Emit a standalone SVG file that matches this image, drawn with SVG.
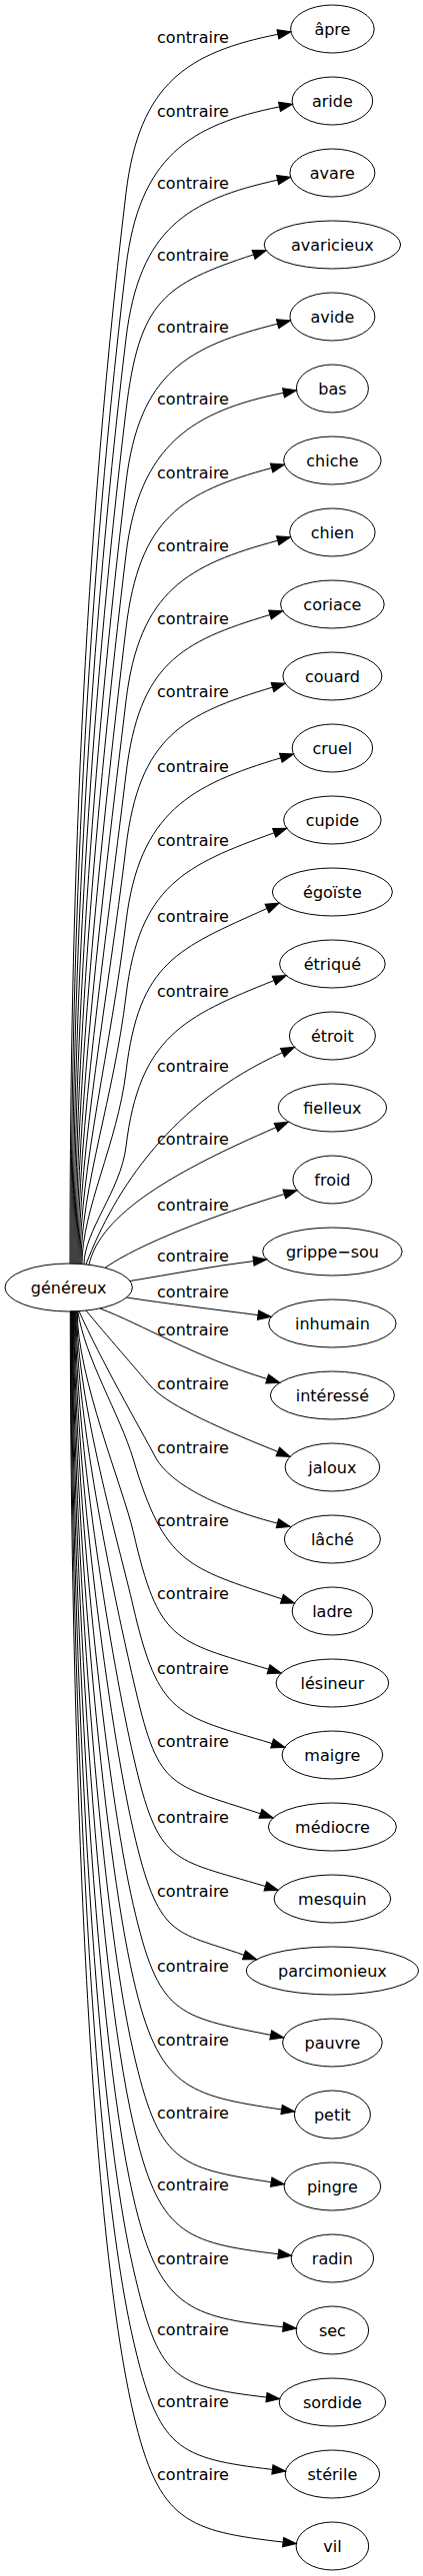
<svg xmlns="http://www.w3.org/2000/svg" width="423" height="2579" viewBox="0 0 423 2579">
<style>
.n ellipse{fill:none;stroke:#000;stroke-width:1}
text{font-family:"DejaVu Sans",sans-serif;font-size:16px;text-anchor:middle;fill:#000}
.e path{fill:none;stroke:#000;stroke-width:1;marker-end:url(#ah)}
</style>
<defs>
<marker id="ah" viewBox="0 0 13.3 9.4" refX="0" refY="4.7" markerWidth="13.3" markerHeight="9.4" markerUnits="userSpaceOnUse" orient="auto" overflow="visible">
<path d="M0,0 L13.3,4.7 L0,9.4 Z" fill="#000" stroke="#000" stroke-width="1"/>
</marker>
</defs>
<rect width="423" height="2579" fill="#fff"/>
<g id="connectors" class="e">
<path d="M70,1265.2 C70,965.1 78.4,589.9 126,193.3 C139.2,83.3 187.9,52.3 277.9,34.3"/><text x="193" y="43.3">contraire</text>
<path d="M71,1265.2 C71,985.8 81.7,636.5 126,267.3 C139.2,157.3 189.5,124.9 279.5,106.9"/><text x="193" y="117.3">contraire</text>
<path d="M72,1265.2 C72,1005.9 84.9,681.7 126,339 C139.2,229 187.6,200 277.6,180.2"/><text x="193" y="189">contraire</text>
<path d="M73,1265.2 C73,1026 88.1,727.1 126,411 C139.2,301 163.6,284.6 253.6,254.9"/><text x="193" y="261">contraire</text>
<path d="M74,1265.2 C74,1046.2 91.3,772.4 126,483 C139.2,373 187.6,346.7 277.6,324.2"/><text x="193" y="333">contraire</text>
<path d="M75,1265.2 C75,1066.3 94.5,817.8 126,555 C139.2,445 193.5,411.3 283.5,393.3"/><text x="193" y="405">contraire</text>
<path d="M76,1265.2 C76,1087.1 97.8,864.4 126,629 C139.2,519 181.6,492.8 271.6,468.5"/><text x="193" y="479">contraire</text>
<path d="M77,1265.2 C77,1107.4 101,910.2 126,701.7 C139.2,591.7 187.7,565.5 277.7,541.2"/><text x="193" y="551.7">contraire</text>
<path d="M78,1265.2 C78,1127.9 104.2,956.4 126,775 C139.2,665 180,642.5 270,615.5"/><text x="193" y="625">contraire</text>
<path d="M79,1265.2 C79,1148.4 107.5,1002.4 126,848 C139.2,738 182.5,715.1 272.5,688.1"/><text x="193" y="698">contraire</text>
<path d="M80,1265.2 C80,1169.4 110.8,1049.6 126,923 C139.2,813 190.8,785.8 280.8,758.8"/><text x="193" y="773">contraire</text>
<path d="M81,1265.2 C81,1190.1 114.1,1096.2 126,997 C139.2,887 184.2,866.2 274.2,833.8"/><text x="193" y="847">contraire</text>
<path d="M82,1265.2 C82,1211.4 117.5,1144.1 126,1073 C139.2,963 177,950 267,909.5"/><text x="193" y="923">contraire</text>
<path d="M84,1265.7 C84,1232.7 120.8,1191.5 126,1148 C139.2,1038 184,1017.6 274,981.6"/><text x="193" y="998">contraire</text>
<path d="M86,1265.8 C115,1190 172.4,1103.3 282.4,1053.8"/><text x="193" y="1073">contraire</text>
<path d="M89,1266.3 C100,1215 176,1172 276,1128.7"/><text x="193" y="1146">contraire</text>
<path d="M105,1269.3 C140,1245 214.3,1216.5 284.3,1195.5"/><text x="193" y="1211.7">contraire</text>
<path d="M130,1282.5 C170,1276 213.5,1267.4 253.5,1262.6"/><text x="193" y="1263">contraire</text>
<path d="M126.7,1299 C165,1305 218,1311.4 258,1316.6"/><text x="193" y="1299">contraire</text>
<path d="M100,1310 C140,1325 197.1,1359.5 267.1,1380.5"/><text x="193" y="1337">contraire</text>
<path d="M86,1312 C105,1335 138,1373 150,1387 C165,1404.5 207.8,1425.4 277.8,1453.4"/><text x="193" y="1390.7">contraire</text>
<path d="M79,1312.6 C100,1360 140,1430 155,1458 C165,1478 200,1505 277.4,1525.1"/><text x="193" y="1455">contraire</text>
<path d="M77.8,1312.7 C85,1360 119.8,1416 133.3,1461 C164.8,1566 186.9,1569.5 281.9,1600.8"/><text x="193" y="1528">contraire</text>
<path d="M77.2,1312.7 C77.2,1379 123.1,1489.5 133.3,1533.7 C158.6,1643.7 173.5,1642.7 268.5,1671.2"/><text x="193" y="1600.7">contraire</text>
<path d="M76.7,1312.7 C76.7,1401.5 119.7,1549.5 133.3,1608.7 C158.6,1718.7 177.1,1717 272.1,1745.5"/><text x="193" y="1675.7">contraire</text>
<path d="M76,1312.7 C76,1423.5 116.3,1608.1 133.3,1682 C158.6,1792 165.5,1784.5 260.5,1815.8"/><text x="193" y="1749">contraire</text>
<path d="M75.3,1312.7 C75.3,1446.3 112.8,1668.9 133.3,1758 C158.6,1868 170.4,1860 265.4,1888.5"/><text x="193" y="1825">contraire</text>
<path d="M74.6,1312.7 C74.6,1468.6 109.4,1728.4 133.3,1832.3 C158.6,1942.3 174,1932.8 244,1957.3"/><text x="193" y="1899.3">contraire</text>
<path d="M74,1312.7 C74,1491.1 105.9,1788.4 133.3,1907.3 C158.6,2017.3 175.7,2018.4 270.7,2037.4"/><text x="193" y="1974.3">contraire</text>
<path d="M73.4,1312.7 C73.4,1513.1 102.6,1847.1 133.3,1980.7 C158.6,2090.7 186.6,2097.8 281.6,2112"/><text x="193" y="2047.7">contraire</text>
<path d="M72.8,1312.7 C72.8,1535.1 99.2,1905.7 133.3,2054 C158.6,2164 176.2,2170.5 271.2,2184.7"/><text x="193" y="2121">contraire</text>
<path d="M72.3,1312.7 C72.3,1556.8 95.9,1963.6 133.3,2126.3 C158.6,2236.3 183.3,2245.3 278.3,2256.7"/><text x="193" y="2193.3">contraire</text>
<path d="M71.8,1312.7 C71.8,1578.8 92.5,2022.3 133.3,2199.7 C158.6,2309.7 188.1,2320.2 283.1,2329.7"/><text x="193" y="2266.7">contraire</text>
<path d="M71.3,1312.7 C71.3,1600.3 89.2,2079.6 133.3,2271.3 C158.6,2381.3 171.5,2388.7 266.5,2400.1"/><text x="193" y="2338.3">contraire</text>
<path d="M70.8,1312.7 C70.8,1621.8 85.9,2136.9 133.3,2343 C158.6,2453 177.4,2461 272.4,2472.4"/><text x="193" y="2410">contraire</text>
<path d="M70.3,1312.7 C70.3,1643.7 82.5,2195.3 133.3,2416 C158.6,2526 188.1,2533.7 283.1,2545.1"/><text x="193" y="2483">contraire</text>
</g>
<g id="genereux" class="n"><ellipse cx="68.7" cy="1289" rx="63.7" ry="24"/><text x="68.7" y="1294.6">généreux</text></g>
<g id="n_apre" class="n"><ellipse cx="332.4" cy="29" rx="41.8" ry="24"/><text x="332.4" y="34.6">âpre</text></g>
<g id="n_aride" class="n"><ellipse cx="332.4" cy="101" rx="40.3" ry="24"/><text x="332.4" y="106.6">aride</text></g>
<g id="n_avare" class="n"><ellipse cx="332.4" cy="173" rx="42.5" ry="24"/><text x="332.4" y="178.6">avare</text></g>
<g id="n_avaricieux" class="n"><ellipse cx="332.4" cy="245" rx="68.2" ry="24"/><text x="332.4" y="250.6">avaricieux</text></g>
<g id="n_avide" class="n"><ellipse cx="332.4" cy="317" rx="42.5" ry="24"/><text x="332.4" y="322.6">avide</text></g>
<g id="n_bas" class="n"><ellipse cx="332.4" cy="389" rx="36" ry="24"/><text x="332.4" y="394.6">bas</text></g>
<g id="n_chiche" class="n"><ellipse cx="332.4" cy="461" rx="48.7" ry="24"/><text x="332.4" y="466.6">chiche</text></g>
<g id="n_chien" class="n"><ellipse cx="332.4" cy="533" rx="42.7" ry="24"/><text x="332.4" y="538.6">chien</text></g>
<g id="n_coriace" class="n"><ellipse cx="332.4" cy="605" rx="51.8" ry="24"/><text x="332.4" y="610.6">coriace</text></g>
<g id="n_couard" class="n"><ellipse cx="332.4" cy="677" rx="49.5" ry="24"/><text x="332.4" y="682.6">couard</text></g>
<g id="n_cruel" class="n"><ellipse cx="332.4" cy="749" rx="40.2" ry="24"/><text x="332.4" y="754.6">cruel</text></g>
<g id="n_cupide" class="n"><ellipse cx="332.4" cy="821" rx="48.7" ry="24"/><text x="332.4" y="826.6">cupide</text></g>
<g id="n_egoiste" class="n"><ellipse cx="332.4" cy="893" rx="60" ry="24"/><text x="332.4" y="898.6">égoïste</text></g>
<g id="n_etrique" class="n"><ellipse cx="332.4" cy="965" rx="52.8" ry="24"/><text x="332.4" y="970.6">étriqué</text></g>
<g id="n_etroit" class="n"><ellipse cx="332.4" cy="1037" rx="43" ry="24"/><text x="332.4" y="1042.6">étroit</text></g>
<g id="n_fielleux" class="n"><ellipse cx="332.4" cy="1109" rx="54.2" ry="24"/><text x="332.4" y="1114.6">fielleux</text></g>
<g id="n_froid" class="n"><ellipse cx="332.4" cy="1181" rx="39.5" ry="24"/><text x="332.4" y="1186.6">froid</text></g>
<g id="n_grippesou" class="n"><ellipse cx="332.4" cy="1253" rx="69.7" ry="24"/><text x="332.4" y="1258.6">grippe−sou</text></g>
<g id="n_inhumain" class="n"><ellipse cx="332.4" cy="1325" rx="63.7" ry="24"/><text x="332.4" y="1330.6">inhumain</text></g>
<g id="n_interesse" class="n"><ellipse cx="332.4" cy="1397" rx="62" ry="24"/><text x="332.4" y="1402.6">intéressé</text></g>
<g id="n_jaloux" class="n"><ellipse cx="332.4" cy="1469" rx="47.3" ry="24"/><text x="332.4" y="1474.6">jaloux</text></g>
<g id="n_lache" class="n"><ellipse cx="332.4" cy="1541" rx="48" ry="24"/><text x="332.4" y="1546.6">lâché</text></g>
<g id="n_ladre" class="n"><ellipse cx="332.4" cy="1613" rx="40.2" ry="24"/><text x="332.4" y="1618.6">ladre</text></g>
<g id="n_lesineur" class="n"><ellipse cx="332.4" cy="1685" rx="56.3" ry="24"/><text x="332.4" y="1690.6">lésineur</text></g>
<g id="n_maigre" class="n"><ellipse cx="332.4" cy="1757" rx="50.3" ry="24"/><text x="332.4" y="1762.6">maigre</text></g>
<g id="n_mediocre" class="n"><ellipse cx="332.4" cy="1829" rx="64" ry="24"/><text x="332.4" y="1834.6">médiocre</text></g>
<g id="n_mesquin" class="n"><ellipse cx="332.4" cy="1901" rx="58.3" ry="24"/><text x="332.4" y="1906.6">mesquin</text></g>
<g id="n_parcimonieux" class="n"><ellipse cx="332.4" cy="1973" rx="86" ry="24"/><text x="332.4" y="1978.6">parcimonieux</text></g>
<g id="n_pauvre" class="n"><ellipse cx="332.4" cy="2045" rx="49.8" ry="24"/><text x="332.4" y="2050.6">pauvre</text></g>
<g id="n_petit" class="n"><ellipse cx="332.4" cy="2117" rx="38" ry="24"/><text x="332.4" y="2122.6">petit</text></g>
<g id="n_pingre" class="n"><ellipse cx="332.4" cy="2189" rx="48.3" ry="24"/><text x="332.4" y="2194.6">pingre</text></g>
<g id="n_radin" class="n"><ellipse cx="332.4" cy="2261" rx="41.2" ry="24"/><text x="332.4" y="2266.6">radin</text></g>
<g id="n_sec" class="n"><ellipse cx="332.4" cy="2333" rx="36.2" ry="24"/><text x="332.4" y="2338.6">sec</text></g>
<g id="n_sordide" class="n"><ellipse cx="332.4" cy="2405" rx="53.2" ry="24"/><text x="332.4" y="2410.6">sordide</text></g>
<g id="n_sterile" class="n"><ellipse cx="332.4" cy="2477" rx="47.2" ry="24"/><text x="332.4" y="2482.6">stérile</text></g>
<g id="n_vil" class="n"><ellipse cx="332.4" cy="2549" rx="36.3" ry="24"/><text x="332.4" y="2554.6">vil</text></g>
</svg>
